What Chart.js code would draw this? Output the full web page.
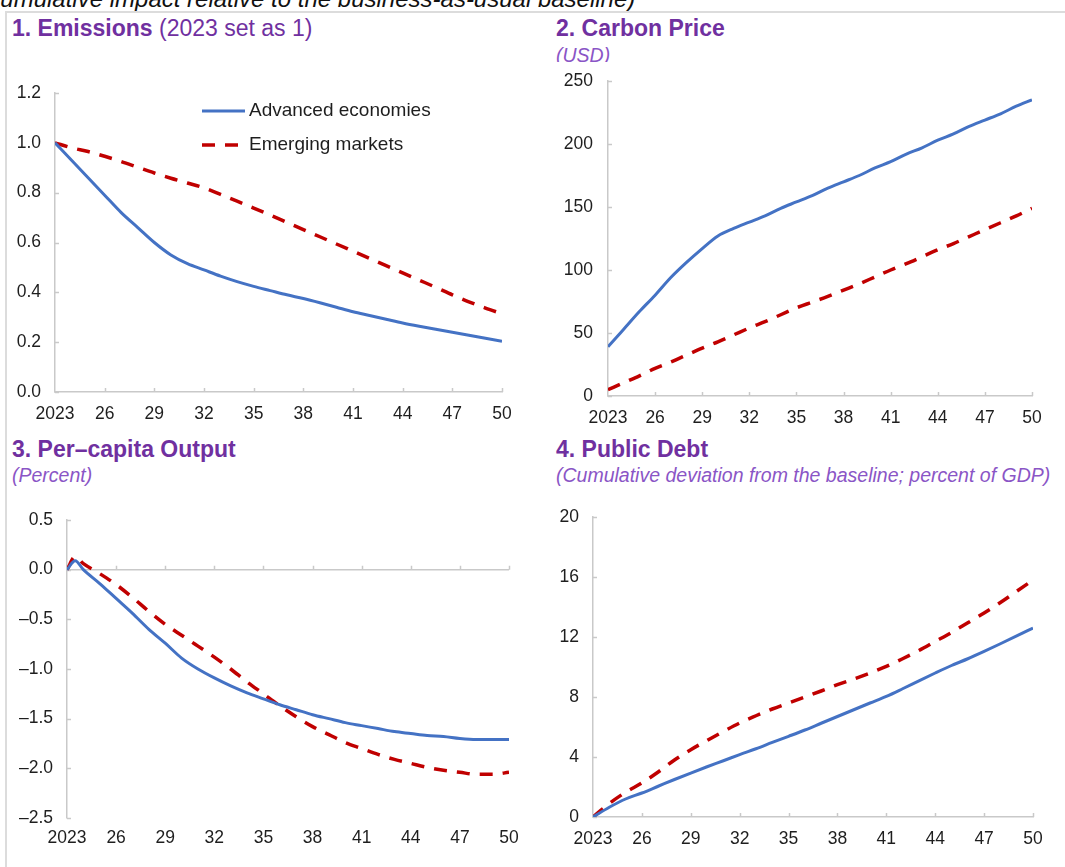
<!DOCTYPE html>
<html>
<head>
<meta charset="utf-8">
<script src="https://cdn.jsdelivr.net/npm/chart.js@4.4.1/dist/chart.umd.min.js"></script>
<style>
  html, body { margin: 0; padding: 0; background: #fff; }
  body { position: relative; width: 1065px; height: 867px; overflow: hidden;
         font-family: "Liberation Sans", Arial, sans-serif; }
  .frame-top  { position: absolute; left: 5px; top: 11px; width: 1060px; height: 2px; background: #dcdcdc; }
  .frame-left { position: absolute; left: 5px; top: 11px; width: 2px; height: 860px; background: #dcdcdc; }
  .note  { position: absolute; left: -25px; top: -13px; font-size: 24px; line-height: 24px;
           font-style: italic; color: #111; white-space: nowrap; }
  .title { position: absolute; font-size: 23px; line-height: 23px; font-weight: bold;
           color: #7030a0; white-space: nowrap; }
  .title span { font-weight: normal; }
  .sub   { position: absolute; font-size: 19.5px; line-height: 19.5px; font-style: italic;
           color: #8a55c6; white-space: nowrap; }
  canvas { position: absolute; }
</style>
</head>
<body>
<div class="note">(Cumulative impact relative to the business-as-usual baseline)</div>
<div class="frame-top"></div>
<div class="frame-left"></div>

<div class="title" style="left:12px;top:17px">1. Emissions <span>(2023 set as 1)</span></div>
<div class="title" style="left:556px;top:17px">2. Carbon Price</div>
<div class="sub"   style="left:556px;top:46px;height:16px;overflow:hidden">(USD)</div>
<div class="title" style="left:12px;top:438px">3. Per–capita Output</div>
<div class="sub"   style="left:12px;top:466px">(Percent)</div>
<div class="title" style="left:556px;top:438px">4. Public Debt</div>
<div class="sub"   style="left:556px;top:466px">(Cumulative deviation from the baseline; percent of GDP)</div>

<canvas id="c1" width="522" height="366" style="left:8px;top:64px"></canvas>
<canvas id="c2" width="520" height="379" style="left:545px;top:51px"></canvas>
<canvas id="c3" width="532" height="377" style="left:8px;top:490px"></canvas>
<canvas id="c4" width="520" height="380" style="left:545px;top:487px"></canvas>

<script>
// ---- data -------------------------------------------------------------
const seriesNames = ['Advanced economies', 'Emerging markets'];

const years = [2023, 2024, 2025, 2026, 2027, 2028, 2029, 2030, 2031, 2032,
               2033, 2034, 2035, 2036, 2037, 2038, 2039, 2040, 2041, 2042,
               2043, 2044, 2045, 2046, 2047, 2048, 2049, 2050];
// output path has an extra mid-2023 observation
const outputYears = [2023, 2023.5, 2024, 2025, 2026, 2027, 2028, 2029, 2030, 2031,
                     2032, 2033, 2034, 2035, 2036, 2037, 2038, 2039, 2040, 2041,
                     2042, 2043, 2044, 2045, 2046, 2047, 2048, 2049, 2050];

const xTickYears  = [2023, 2026, 2029, 2032, 2035, 2038, 2041, 2044, 2047, 2050];
const xTickLabels = ['2023', '26', '29', '32', '35', '38', '41', '44', '47', '50'];

// 1. Emissions (2023 = 1)
const emissionsAdv = [1.0, 0.93, 0.86, 0.79, 0.72, 0.66, 0.60, 0.55, 0.515, 0.49,
                      0.465, 0.443, 0.424, 0.407, 0.39, 0.375, 0.358, 0.34, 0.322, 0.307,
                      0.292, 0.277, 0.264, 0.252, 0.24, 0.228, 0.216, 0.204];
const emissionsEm  = [1.0, 0.98, 0.965, 0.946, 0.925, 0.902, 0.879, 0.858, 0.839, 0.819,
                      0.793, 0.766, 0.738, 0.71, 0.681, 0.652, 0.623, 0.594, 0.565, 0.536,
                      0.507, 0.478, 0.449, 0.42, 0.39, 0.362, 0.337, 0.314];

// 2. Carbon price (USD)
const carbonAdv = [39, 53, 67, 80, 94, 106, 117, 127, 133, 138,
                   143, 149, 154, 159, 165, 170, 175, 181, 186, 192,
                   197, 203, 208, 214, 219, 224, 230, 235];
const carbonEm  = [5, 10.5, 16, 22, 27, 32.5, 38, 43, 48.5, 54,
                   59, 64.5, 70, 74.5, 79, 84, 89, 94.5, 100, 105,
                   110.5, 116, 121, 126.5, 132, 137.5, 143, 149];

// 3. Per-capita output (percent)
const outputAdv = [0.0, 0.09, 0.0, -0.14, -0.29, -0.44, -0.60, -0.74, -0.89, -1.0,
                   -1.09, -1.17, -1.24, -1.30, -1.36, -1.41, -1.46, -1.50, -1.54, -1.57,
                   -1.60, -1.63, -1.65, -1.67, -1.68, -1.70, -1.71, -1.71, -1.71];
const outputEm  = [0.0, 0.13, 0.06, -0.04, -0.15, -0.28, -0.42, -0.55, -0.66, -0.77,
                   -0.88, -1.00, -1.13, -1.25, -1.37, -1.48, -1.58, -1.66, -1.74, -1.80,
                   -1.86, -1.91, -1.95, -1.99, -2.02, -2.04, -2.06, -2.06, -2.04];

// 4. Public debt (cumulative deviation, percent of GDP)
const debtAdv = [0, 0.65, 1.2, 1.6, 2.05, 2.5, 2.93, 3.35, 3.75, 4.16,
                 4.55, 4.97, 5.38, 5.8, 6.25, 6.7, 7.15, 7.6, 8.04, 8.55,
                 9.08, 9.6, 10.1, 10.55, 11.04, 11.55, 12.07, 12.6];
const debtEm  = [0, 0.9, 1.65, 2.27, 3.0, 3.8, 4.49, 5.1, 5.7, 6.27,
                 6.75, 7.2, 7.6, 8.0, 8.4, 8.82, 9.2, 9.6, 10.04, 10.55,
                 11.1, 11.7, 12.3, 12.95, 13.6, 14.3, 15.05, 15.8];

// ---- styling ----------------------------------------------------------
const BLUE = '#4472c4';
const RED = '#c00000';
const AXIS = '#c9c9c9';
const TEXT = '#1e1e1e';

Chart.defaults.font.family = '"Liberation Sans", Arial, sans-serif';
Chart.defaults.font.size = 17.5;
Chart.defaults.color = TEXT;

// small tick marks pointing into the plot area
const innerTicks = {
  id: 'innerTicks',
  beforeDatasetsDraw(chart, args, opts) {
    const { ctx, chartArea, scales: { x, y } } = chart;
    const len = 4;
    const baseY = opts.xAt !== undefined ? y.getPixelForValue(opts.xAt) : chartArea.bottom;
    ctx.save();
    ctx.strokeStyle = AXIS;
    ctx.lineWidth = 1.5;
    ctx.beginPath();
    x.ticks.forEach((t, i) => {
      if (i === 0) return;
      const px = Math.round(x.getPixelForValue(t.value)) + 0.5;
      ctx.moveTo(px, baseY);
      ctx.lineTo(px, baseY - len);
    });
    y.ticks.forEach(t => {
      const py = Math.round(y.getPixelForValue(t.value)) + 0.5;
      ctx.moveTo(chartArea.left, py);
      ctx.lineTo(chartArea.left + len, py);
    });
    ctx.stroke();
    ctx.restore();
  }
};

// line-sample legend placed inside the plot area
const lineLegend = {
  id: 'lineLegend',
  afterDatasetsDraw(chart, args, opts) {
    if (!opts.show) return;
    const { ctx, chartArea } = chart;
    ctx.save();
    chart.data.datasets.forEach((ds, i) => {
      const y = chartArea.top + opts.top + i * opts.gap;
      const x0 = chartArea.left + opts.left;
      ctx.strokeStyle = ds.borderColor;
      ctx.lineWidth = ds.borderWidth;
      ctx.setLineDash(ds.borderDash || []);
      ctx.beginPath();
      ctx.moveTo(x0, y);
      ctx.lineTo(x0 + opts.sample, y);
      ctx.stroke();
      ctx.setLineDash([]);
      ctx.fillStyle = TEXT;
      ctx.font = '19px "Liberation Sans", Arial, sans-serif';
      ctx.textBaseline = 'middle';
      ctx.textAlign = 'left';
      ctx.fillText(ds.label, x0 + opts.sample + 4, y);
    });
    ctx.restore();
  }
};

function points(xs, ys) {
  return xs.map((x, i) => ({ x, y: ys[i] }));
}

function makeChart(id, p) {
  const datasets = [
    { label: seriesNames[0], data: points(p.xs, p.adv), borderColor: BLUE, borderWidth: 3 },
    { label: seriesNames[1], data: points(p.xs, p.em), borderColor: RED, borderWidth: 3.5, borderDash: [13, 10] }
  ].map(d => Object.assign(d, { pointRadius: 0, fill: false, cubicInterpolationMode: 'monotone' }));

  return new Chart(document.getElementById(id), {
    type: 'line',
    data: { datasets },
    plugins: [innerTicks, lineLegend],
    options: {
      responsive: false,
      animation: false,
      events: [],
      layout: { padding: { top: p.padTop, right: p.padRight, left: 0, bottom: 0 } },
      plugins: {
        legend: { display: false },
        tooltip: { enabled: false },
        innerTicks: { xAt: p.xAt },
        lineLegend: p.legend || { show: false }
      },
      scales: {
        x: {
          type: 'linear',
          min: 2023, max: 2050,
          afterBuildTicks: s => { s.ticks = xTickYears.map(v => ({ value: v })); },
          afterFit: s => { s.height = p.xHeight; },
          ticks: {
            autoSkip: false, maxRotation: 0, padding: p.xPad,
            callback: (v, i) => xTickLabels[i]
          },
          grid: { display: false, drawTicks: false },
          border: { display: p.xAt === undefined, color: AXIS, width: 1.5 }
        },
        y: {
          min: p.yMin, max: p.yMax,
          afterBuildTicks: s => { s.ticks = p.yTicks.map(v => ({ value: v })); },
          afterFit: s => { s.width = p.yWidth; },
          ticks: { padding: p.yPad, callback: p.yFmt },
          grid: {
            drawTicks: false,
            lineWidth: 1.5,
            color: c => (p.xAt !== undefined && c.tick && c.tick.value === p.xAt) ? AXIS : 'rgba(0,0,0,0)'
          },
          border: { display: true, color: AXIS, width: 1.5 }
        }
      }
    }
  });
}

const fmt1 = v => {
  const s = Math.abs(v).toFixed(1);
  return v < -1e-9 ? '\u2013' + s : s;
};
const fmt0 = v => String(v);

const emissionsTicks = [0, 0.2, 0.4, 0.6, 0.8, 1.0, 1.2];
const carbonTicks = [0, 50, 100, 150, 200, 250];
const outputTicks = [-2.5, -2.0, -1.5, -1.0, -0.5, 0.0, 0.5];
const debtTicks = [0, 4, 8, 12, 16, 20];

makeChart('c1', {
  xs: years, adv: emissionsAdv, em: emissionsEm,
  yMin: 0, yMax: 1.2, yTicks: emissionsTicks, yFmt: fmt1,
  padTop: 29, padRight: 28, yWidth: 47, xHeight: 38, xPad: 12, yPad: 14,
  legend: { show: true, left: 147, top: 18, gap: 34, sample: 43 }
});
makeChart('c2', {
  xs: years, adv: carbonAdv, em: carbonEm,
  yMin: 0, yMax: 250, yTicks: carbonTicks, yFmt: fmt0,
  padTop: 30, padRight: 33, yWidth: 63, xHeight: 34, xPad: 12, yPad: 15
});
makeChart('c3', {
  xs: outputYears, adv: outputAdv, em: outputEm,
  yMin: -2.5, yMax: 0.5, yTicks: outputTicks, yFmt: fmt1, xAt: 0,
  padTop: 30, padRight: 31, yWidth: 59, xHeight: 49, xPad: 10, yPad: 14
});
makeChart('c4', {
  xs: years, adv: debtAdv, em: debtEm,
  yMin: 0, yMax: 20, yTicks: debtTicks, yFmt: fmt0,
  padTop: 30, padRight: 32, yWidth: 48, xHeight: 50, xPad: 12, yPad: 14
});
</script>
</body>
</html>
